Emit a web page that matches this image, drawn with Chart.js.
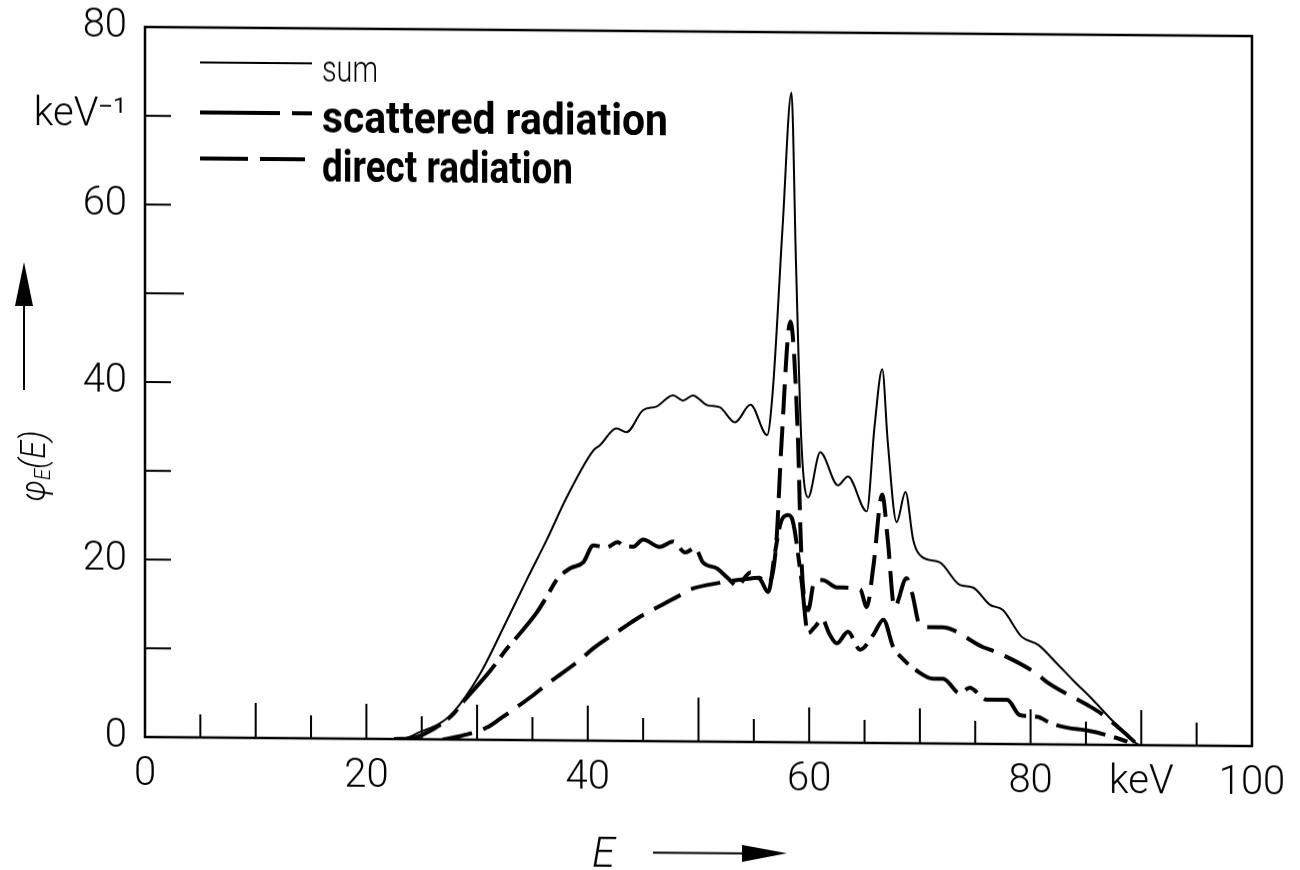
<!DOCTYPE html>
<html>
<head>
<meta charset="utf-8">
<script src="https://cdn.jsdelivr.net/npm/chart.js@4.4.1/dist/chart.umd.min.js"></script>
<style>
  html, body { margin: 0; background: #fff; }
  /* the scanned figure is slightly sheared: right side sits ~9px lower */
  #wrap { width: 1300px; height: 870px; transform-origin: 145px 737px; transform: skewY(0.47deg); }
</style>
</head>
<body>
<div id="wrap"><canvas id="spectrum"></canvas></div>
<script>
// energy E in keV, phi_E(E) in keV^-1
const sumE = [22, 23.5, 24.8, 26.5, 27.8, 30.3, 32.7, 34.5, 36.3, 38.1, 40.5, 41.1, 42.6, 43.5, 45.0, 46.2, 47.7, 48.6, 49.5, 50.8, 51.9, 53.3, 54.7, 56.2, 56.7, 57.6, 58.4, 58.8, 59.3, 59.9, 61.0, 62.6, 63.5, 65.2, 65.9, 66.6, 67.1, 67.9, 68.7, 69.4, 70.2, 71.8, 73.6, 74.8, 76.3, 77.5, 79.2, 80.7, 82.4, 83.8, 85.6, 87.5, 89.7];
const sumPhi = [0, 0.1, 0.8, 1.7, 3.0, 7.5, 13.5, 18.1, 22.6, 27.4, 32.7, 33.3, 35.2, 34.8, 37.3, 37.7, 39.0, 38.4, 39.0, 37.9, 37.7, 36.0, 38.0, 34.6, 39.4, 58.1, 73.2, 54.4, 33.7, 27.6, 32.7, 29.0, 30.0, 26.1, 35.6, 42.1, 33.9, 24.9, 28.3, 22.9, 21.0, 20.4, 17.9, 17.6, 15.7, 15.1, 12.1, 11.2, 9.1, 7.3, 5.1, 2.6, 0];

const scatE = [22.5, 24, 25.1, 27.8, 28.7, 31.2, 32.7, 33.6, 35.4, 36.3, 37.2, 38.4, 39.6, 40.5, 41.7, 42.7, 43.2, 44.1, 45.0, 46.5, 47.7, 48.8, 49.7, 50.4, 51.7, 52.6, 53.5, 54.7, 55.6, 56.3, 56.9, 57.5, 58.1, 58.5, 59.3, 59.9, 60.5, 61.2, 61.8, 62.5, 63.5, 64.6, 65.8, 66.7, 67.6, 68.3, 69.7, 71.2, 72.1, 73.6, 74.5, 76.0, 77.9, 79.0, 80.6, 81.8, 83.3, 85.1, 86.9, 89.7];
const scatPhi = [0, 0.1, 0.5, 2.8, 4.2, 7.8, 10.3, 11.6, 14.4, 16.2, 18.1, 19.4, 20.1, 22.0, 21.8, 22.4, 22.0, 21.9, 22.7, 21.9, 22.5, 21.3, 21.8, 20.2, 19.5, 18.5, 17.6, 19.1, 18.3, 16.9, 21.3, 25.0, 25.6, 25.0, 18.3, 12.3, 13.0, 13.9, 12.3, 11.2, 12.5, 10.5, 12.2, 13.9, 10.8, 9.7, 8.2, 7.3, 7.3, 5.7, 6.3, 5.0, 5.0, 3.3, 3.1, 2.4, 1.9, 1.6, 1.1, 0];

const directE = [26.9, 28.5, 30.9, 32.1, 35.1, 36.3, 39.3, 40.5, 43.5, 44.7, 48.1, 49.2, 51.9, 54.0, 55.5, 56.2, 57.0, 57.5, 58.3, 59.0, 59.2, 59.4, 59.9, 60.5, 61.2, 62.5, 64.6, 65.2, 65.8, 66.6, 67.1, 67.7, 68.8, 69.3, 70.0, 70.9, 72.0, 75.7, 77.0, 80.5, 81.5, 85.1, 86.3, 88.1, 89.7];
const directPhi = [0, 0.4, 1.4, 2.4, 5.1, 6.3, 9.1, 10.4, 13.0, 14.0, 16.3, 17.1, 17.9, 18.3, 18.5, 17.8, 22.0, 33.7, 47.4, 33.7, 24.3, 18.3, 14.9, 18.3, 18.3, 17.5, 17.3, 15.3, 19.9, 28.0, 22.9, 15.3, 18.6, 16.9, 13.3, 13.1, 13.1, 10.9, 10.3, 8.0, 7.0, 4.5, 3.6, 1.8, 0];

const xLabels = { 0: '0', 20: '20', 40: '40', 60: '60', 80: '80', 90: 'keV', 100: '100' };
const yLabels = { 0: '0', 20: '20', 40: '40', 60: '60', 70: 'keV\u207B\u00B9', 80: '80' };
const seriesNames = ['sum', 'scattered radiation', 'direct radiation'];

const pts = (xs, ys) => xs.map((x, i) => ({ x: x, y: ys[i] }));
const tickFont = { family: 'Roboto, "DejaVu Sans", sans-serif', size: 40, weight: '300' };

// draw text squeezed/stretched to a given width
function fitText(ctx, text, x, y, width) {
    const w = ctx.measureText(text).width;
    ctx.save();
    ctx.translate(x, y);
    ctx.scale(width / w, 1);
    ctx.fillText(text, 0, 0);
    ctx.restore();
}

function arrowHead(ctx, tipX, tipY, baseX1, baseY1, baseX2, baseY2) {
    ctx.beginPath();
    ctx.moveTo(tipX, tipY);
    ctx.lineTo(baseX1, baseY1);
    ctx.lineTo(baseX2, baseY2);
    ctx.closePath();
    ctx.fill();
}

const framePlugin = {
    id: 'frame',
    afterDatasetsDraw(chart) {
        const { ctx, chartArea: a, scales: { x, y } } = chart;
        ctx.save();
        ctx.strokeStyle = '#000';
        ctx.lineWidth = 2.5;
        ctx.strokeRect(a.left, a.top, a.right - a.left, a.bottom - a.top);

        // inward tick marks
        ctx.lineWidth = 2;
        ctx.beginPath();
        x.ticks.forEach(t => {
            if (t.value <= 0 || t.value >= 100) return;
            const len = t.value % 50 === 0 ? 44 : (t.value % 10 === 0 ? 35 : 23);
            const px = x.getPixelForValue(t.value);
            ctx.moveTo(px, a.bottom);
            ctx.lineTo(px, a.bottom - len);
        });
        y.ticks.forEach(t => {
            if (t.value <= 0 || t.value >= 80) return;
            const len = t.value === 50 ? 39 : 26;
            const py = y.getPixelForValue(t.value);
            ctx.moveTo(a.left, py);
            ctx.lineTo(a.left + len, py);
        });
        ctx.stroke();
        ctx.restore();
    }
};

const legendPlugin = {
    id: 'paperLegend',
    afterDraw(chart) {
        const ctx = chart.ctx;
        ctx.save();
        ctx.strokeStyle = '#000';
        ctx.fillStyle = '#000';
        ctx.lineCap = 'butt';

        // sum
        ctx.lineWidth = 2;
        ctx.beginPath();
        ctx.moveTo(200, 62); ctx.lineTo(312, 62);
        ctx.stroke();
        // scattered radiation
        ctx.lineWidth = 4;
        ctx.beginPath();
        ctx.moveTo(200, 112); ctx.lineTo(280, 112);
        ctx.moveTo(292, 112); ctx.lineTo(312, 112);
        ctx.stroke();
        // direct radiation
        ctx.beginPath();
        ctx.moveTo(200, 158); ctx.lineTo(248, 158);
        ctx.moveTo(260, 158); ctx.lineTo(305, 158);
        ctx.stroke();

        ctx.textBaseline = 'alphabetic';
        ctx.textAlign = 'left';
        ctx.font = '300 36px Roboto, "DejaVu Sans", sans-serif';
        fitText(ctx, seriesNames[0], 322, 80, 56);
        ctx.font = 'bold 44px Roboto, "DejaVu Sans", sans-serif';
        fitText(ctx, seriesNames[1], 322, 131, 346);
        fitText(ctx, seriesNames[2], 322, 180, 251);

        // y axis title with arrow
        const big = 'italic 300 35px Roboto, "DejaVu Sans", sans-serif';
        const small = 'italic 300 22px Roboto, "DejaVu Sans", sans-serif';
        ctx.save();
        ctx.translate(45, 467);
        ctx.rotate(-Math.PI / 2);
        ctx.font = big;
        const w1 = ctx.measureText('\u03C6').width;
        const w3 = ctx.measureText('(E)').width;
        ctx.font = small;
        const w2 = ctx.measureText('E').width;
        const total = w1 + w2 + w3;
        ctx.scale(71 / total, 1);
        let cx = -total / 2;
        ctx.font = big;
        ctx.fillText('\u03C6', cx, 0); cx += w1;
        ctx.font = small;
        ctx.fillText('E', cx, 5); cx += w2;
        ctx.font = big;
        ctx.fillText('(E)', cx, 0);
        ctx.restore();

        ctx.lineWidth = 2;
        ctx.beginPath();
        ctx.moveTo(24, 391); ctx.lineTo(24, 300);
        ctx.stroke();
        arrowHead(ctx, 24, 263, 15, 307, 33, 307);

        // x axis title with arrow
        ctx.font = 'italic 300 42px Roboto, "DejaVu Sans", sans-serif';
        fitText(ctx, 'E', 592, 863, 23);
        ctx.beginPath();
        ctx.moveTo(653, 848.5); ctx.lineTo(745, 848.5);
        ctx.stroke();
        arrowHead(ctx, 787, 848, 742, 840, 742, 857);
        ctx.restore();
    }
};

const ctx = document.getElementById('spectrum').getContext('2d');
new Chart(ctx, {
    type: 'line',
    data: {
        datasets: [{
            label: seriesNames[0],
            data: pts(sumE, sumPhi),
            borderColor: '#000',
            borderWidth: 2,
            pointRadius: 0,
            cubicInterpolationMode: 'monotone'
        }, {
            label: seriesNames[1],
            data: pts(scatE, scatPhi),
            borderColor: '#000',
            borderWidth: 4,
            borderDash: [50, 9, 14, 9],
            pointRadius: 0,
            cubicInterpolationMode: 'monotone'
        }, {
            label: seriesNames[2],
            data: pts(directE, directPhi),
            borderColor: '#000',
            borderWidth: 4,
            borderDash: [30, 12],
            pointRadius: 0,
            cubicInterpolationMode: 'monotone'
        }]
    },
    options: {
        responsive: true,
        maintainAspectRatio: false,
        animation: false,
        layout: { padding: { top: 27, right: 48, bottom: 0, left: 0 } },
        plugins: {
            legend: { display: false },
            tooltip: { enabled: false }
        },
        scales: {
            x: {
                type: 'linear',
                min: 0,
                max: 100,
                afterFit: s => { s.height = 133; s.paddingLeft = 0; s.paddingRight = 0; },
                grid: { display: false, drawTicks: false },
                border: { display: false },
                ticks: {
                    stepSize: 5,
                    autoSkip: false,
                    maxRotation: 0,
                    padding: 14,
                    color: '#000',
                    font: tickFont,
                    callback: v => xLabels[v] !== undefined ? xLabels[v] : ''
                }
            },
            y: {
                min: 0,
                max: 80,
                afterFit: s => { s.width = 145; s.paddingTop = 0; s.paddingBottom = 0; },
                grid: { display: false, drawTicks: false },
                border: { display: false },
                ticks: {
                    stepSize: 10,
                    padding: 18,
                    color: '#000',
                    font: tickFont,
                    callback: v => yLabels[v] !== undefined ? yLabels[v] : ''
                }
            }
        }
    },
    plugins: [framePlugin, legendPlugin]
});
</script>
</body>
</html>
